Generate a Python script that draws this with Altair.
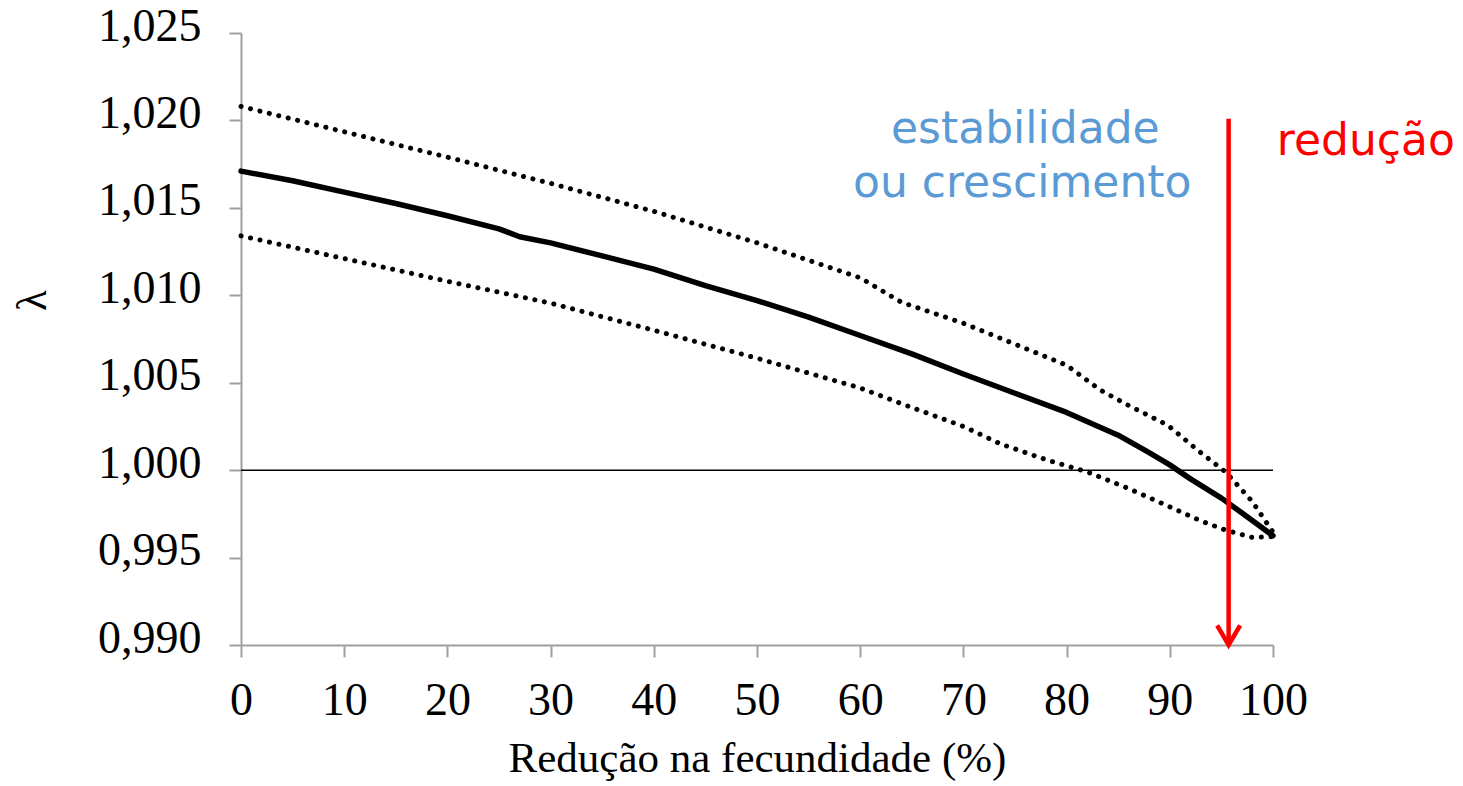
import altair as alt
import pandas as pd

# Reduction in fecundity (%) and lambda values
x_mid = [0, 5, 10, 15, 20, 25, 27, 30, 35, 40, 45, 50, 55, 60, 65, 70, 75, 80, 85, 88, 90, 92, 95, 97, 100]
y_mid = [1.0171, 1.01655, 1.0159, 1.01525, 1.01455, 1.0138, 1.01335, 1.0130, 1.01225, 1.0115, 1.01055,
         1.0097, 1.00875, 1.0077, 1.00665, 1.0055, 1.0044, 1.0033, 1.0020, 1.0010, 1.0003, 0.9995,
         0.9984, 0.99755, 0.99625]

x_up = [0, 10, 20, 28, 30, 40, 50, 60, 64, 70, 73.6, 80, 83.3, 86, 89.8, 93, 95.4, 98, 100]
y_up = [1.0208, 1.01935, 1.0179, 1.0167, 1.0164, 1.0148, 1.0130, 1.0110, 1.0096, 1.0084, 1.00754,
        1.0060, 1.00457, 1.0037, 1.00257, 1.0010, 0.9999, 0.9982, 0.99645]

x_lo = [0, 10, 20, 28, 30, 40, 50, 60, 64, 70, 73.6, 78, 82, 86, 90, 93, 95.4, 98, 100]
y_lo = [1.0134, 1.0121, 1.0108, 1.0098, 1.00955, 1.0080, 1.0064, 1.0047, 1.0038, 1.0025, 1.0015,
        1.0006, 0.9999, 0.99895, 0.9979, 0.9971, 0.99657, 0.99615, 0.9962]

x_ticks = [0, 10, 20, 30, 40, 50, 60, 70, 80, 90, 100]
y_ticks = [0.990, 0.995, 1.000, 1.005, 1.010, 1.015, 1.020, 1.025]

arrow_x = 95.7
arrow_top = 1.0201
arrow_bottom = 0.990

ann_text = ["estabilidade", "ou crescimento", "redução"]
ann_x = [76.0, 75.7, 109.0]
ann_y = [1.01869, 1.0156, 1.0180]
ann_color = ["#5B9BD5", "#5B9BD5", "#FF0000"]

df_mid = pd.DataFrame({"x": x_mid, "y": y_mid})
df_up = pd.DataFrame({"x": x_up, "y": y_up})
df_lo = pd.DataFrame({"x": x_lo, "y": y_lo})
df_ann = pd.DataFrame({"x": ann_x, "y": ann_y, "t": ann_text, "c": ann_color})
df_ref = pd.DataFrame({"x": [0], "x2": [100], "y": [1.0]})
df_arrow = pd.DataFrame({"x": [arrow_x], "y": [arrow_top], "y2": [arrow_bottom]})

xscale = alt.Scale(domain=[0, 100], nice=False, zero=False)
yscale = alt.Scale(domain=[0.990, 1.025], nice=False, zero=False)

xenc = alt.X("x:Q", scale=xscale, axis=alt.Axis(
    values=x_ticks, format="d", title="Redução na fecundidade (%)",
    labelPadding=21, titlePadding=14, labelFlush=False, labelOverlap=False))
yenc = alt.Y("y:Q", scale=yscale, axis=alt.Axis(
    values=y_ticks, labelExpr="replace(format(datum.value, '.3f'), '.', ',')",
    title="λ", labelPadding=28, labelOffset=-7, labelFlush=False, labelOverlap=False,
    titleX=-209, titleY=267, titleAlign="center", titleBaseline="middle", titleAngle=270))

mid = alt.Chart(df_mid).mark_line(color="black", strokeWidth=5.5, strokeJoin="round",
                                  strokeCap="round").encode(x=xenc, y=yenc)
up = alt.Chart(df_up).mark_line(color="black", strokeWidth=5, strokeDash=[0.1, 9.6],
                                strokeCap="round").encode(x="x:Q", y="y:Q")
lo = alt.Chart(df_lo).mark_line(color="black", strokeWidth=5, strokeDash=[0.1, 9.6],
                                strokeCap="round").encode(x="x:Q", y="y:Q")
ref = alt.Chart(df_ref).mark_rule(color="black", strokeWidth=1.5).encode(x="x:Q", x2="x2:Q", y="y:Q")
arrow = alt.Chart(df_arrow).mark_rule(color="#FF0000", strokeWidth=4.5).encode(x="x:Q", y="y:Q", y2="y2:Q")
head = alt.Chart(df_arrow).mark_point(
    shape="M -1 -1.7 L 0 0 L 1 -1.7", filled=False, color="#FF0000", strokeWidth=4.5,
    size=529, opacity=1).encode(x="x:Q", y="y2:Q")
ann = alt.Chart(df_ann).mark_text(font="DejaVu Sans", fontSize=44, baseline="alphabetic",
                                  align="center").encode(
    x="x:Q", y="y:Q", text="t:N", color=alt.Color("c:N", scale=None))

chart = alt.layer(ref, up, lo, mid, arrow, head, ann).properties(
    width=1032, height=612,
    autosize=alt.AutoSizeParams(type="none"),
    padding={"left": 241, "top": 33, "right": 190, "bottom": 141},
    background="white",
).configure_view(stroke=None).configure_axis(
    grid=False, domainColor="#A0A0A0", domainWidth=2, tickColor="#A0A0A0", tickWidth=2,
    tickSize=12, labelFont="Liberation Serif", labelFontSize=46, labelColor="black",
    titleFont="Liberation Serif", titleFontSize=43, titleFontWeight="normal", titleColor="black",
)

chart.save("out.html", embed_options={"renderer": "svg", "actions": False})
